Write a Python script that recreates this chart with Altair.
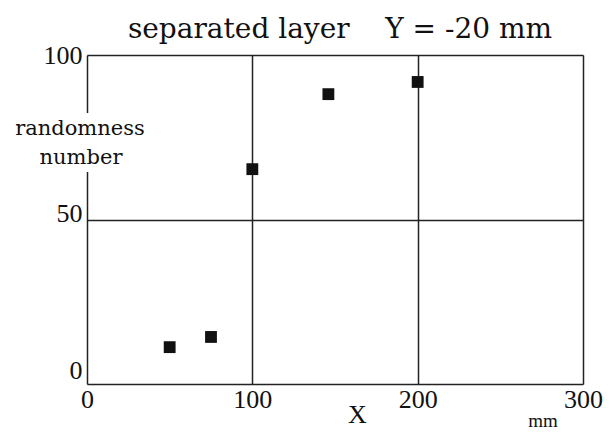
import altair as alt
import pandas as pd

x_vals = [50, 75, 100, 146, 200]
y_vals = [11.2, 14.3, 65.3, 88.1, 91.8]
x_ticks = [0, 100, 200, 300]
y_ticks = [0, 50, 100]
title_text = "separated layer\u00a0\u00a0\u00a0\u00a0Y = -20 mm"
y_title = ["randomness", "number"]
x_title = "X"
unit_text = "mm"

df = pd.DataFrame({"x": x_vals, "y": y_vals})
FONT = "Liberation Serif"
WIDE = "DejaVu Serif"
INK = "#111111"
LINE = "#222222"

xs = alt.Scale(domain=[0, 300], nice=False)
ys = alt.Scale(domain=[0, 100], nice=False)

points = alt.Chart(df).mark_square(size=140, color=INK, opacity=1).encode(
    x=alt.X("x:Q", scale=xs,
            axis=alt.Axis(values=x_ticks, title=x_title, grid=True,
                          gridColor=LINE, gridWidth=1.5, ticks=False, domain=False,
                          labelFont=FONT, labelFontSize=26, labelColor=INK, labelPadding=2,
                          labelFlush=False,
                          titleFont=FONT, titleFontSize=26, titleFontWeight="normal",
                          titleColor=INK, titleX=270, titleY=30, titleBaseline="middle")),
    y=alt.Y("y:Q", scale=ys,
            axis=alt.Axis(values=y_ticks, title=None, grid=True,
                          gridColor=LINE, gridWidth=1.5, ticks=False, domain=False,
                          labelFont=FONT, labelFontSize=26, labelColor=INK, labelPadding=5,
                          labelFlush=False,
                          labelOffset={"condition": [{"test": "datum.value == 0", "value": -14},
                                                     {"test": "datum.value == 50", "value": -6}],
                                       "value": 0})),
)

# white gap in the left frame line where the axis title crosses it
mask = alt.Chart(pd.DataFrame({"m": [0]})).mark_rect(color="white").encode(
    x=alt.value(-3), x2=alt.value(3), y=alt.value(58), y2=alt.value(117)
)

ytitle1 = alt.Chart(pd.DataFrame({"t": [y_title[0]]})).mark_text(
    font=WIDE, fontSize=21, color=INK, align="center", baseline="alphabetic"
).encode(text="t:N", x=alt.value(-7), y=alt.value(80))

ytitle2 = alt.Chart(pd.DataFrame({"t": [y_title[1]]})).mark_text(
    font=WIDE, fontSize=21, color=INK, align="center", baseline="alphabetic"
).encode(text="t:N", x=alt.value(-6), y=alt.value(109))

unit = alt.Chart(pd.DataFrame({"t": [unit_text]})).mark_text(
    font=FONT, fontSize=19, color=INK, align="center", baseline="middle"
).encode(text="t:N", x=alt.value(456), y=alt.value(366))

title = alt.Chart(pd.DataFrame({"t": [title_text]})).mark_text(
    font=WIDE, fontSize=28, color=INK, align="center", baseline="alphabetic"
).encode(text="t:N", x=alt.value(253), y=alt.value(-17))

chart = alt.layer(points, mask, ytitle1, ytitle2, unit, title).properties(
    width=496, height=329,
    autosize=alt.AutoSizeParams(type="none"),
    padding={"left": 79, "top": 47, "right": 21, "bottom": 47},
).configure_view(stroke=LINE, strokeWidth=1.5).configure(background="white")

chart.save("out.html", embed_options={"renderer": "svg", "actions": False})
